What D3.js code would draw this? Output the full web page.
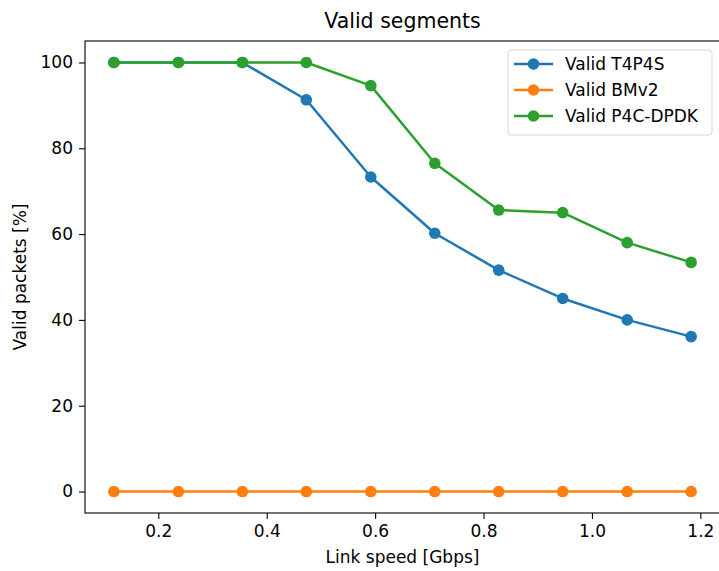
<!DOCTYPE html>
<html>
<head>
<meta charset="utf-8">
<script src="https://cdn.jsdelivr.net/npm/d3@7"></script>
<style>
  body { margin: 0; background: #fff; }
  text { font-family: "DejaVu Sans", sans-serif; fill: #000; }
</style>
</head>
<body>
<svg width="719" height="571"></svg>
<script>
// data
var speeds = [0.118, 0.237, 0.355, 0.473, 0.592, 0.710, 0.828, 0.946, 1.065, 1.183];
var t4p4s = [100, 100, 100, 91.3, 73.3, 60.2, 51.6, 45.0, 40.0, 36.1];
var bmv2 = [0, 0, 0, 0, 0, 0, 0, 0, 0, 0];
var p4c = [100, 100, 100, 100, 94.6, 76.5, 65.6, 65.0, 58.0, 53.4];
var seriesNames = ["Valid T4P4S", "Valid BMv2", "Valid P4C-DPDK"];
var colors = ["#1f77b4", "#ff7f0e", "#2ca02c"];
var xTicks = [0.2, 0.4, 0.6, 0.8, 1.0, 1.2];
var yTicks = [0, 20, 40, 60, 80, 100];

var svg = d3.select("svg"),
    margin = {top: 41, right: -1, bottom: 58, left: 85},
    width = +svg.attr("width") - margin.left - margin.right,
    height = +svg.attr("height") - margin.top - margin.bottom;

// matplotlib style 5% margins
var xmin = d3.min(speeds), xmax = d3.max(speeds), xpad = (xmax - xmin) * 0.05;
var x = d3.scaleLinear().domain([xmin - xpad, xmax + xpad]).range([0, width]);
var y = d3.scaleLinear().domain([-5, 105]).range([height, 0]);

var fs = 17;

var g = svg.append("g")
    .attr("transform", "translate(" + margin.left + "," + margin.top + ")");

// axes
var xAxis = g.append("g")
    .attr("transform", "translate(0," + height + ")")
    .call(d3.axisBottom(x).tickValues(xTicks).tickFormat(d3.format(".1f")).tickSize(6).tickPadding(6));
var yAxis = g.append("g")
    .call(d3.axisLeft(y).tickValues(yTicks).tickSize(6).tickPadding(6));
[xAxis, yAxis].forEach(function(a) {
  a.select(".domain").remove();
  a.selectAll("line").attr("stroke", "#000").attr("stroke-width", 1.1);
  a.selectAll("text").style("font-size", fs + "px").attr("fill", "#000");
});

// spines
g.append("rect")
    .attr("x", 0).attr("y", 0)
    .attr("width", width).attr("height", height)
    .attr("fill", "none").attr("stroke", "#000").attr("stroke-width", 1.1);

// lines
var line = d3.line()
    .x(function(d, i) { return x(speeds[i]); })
    .y(function(d) { return y(d); });

var allSeries = [t4p4s, bmv2, p4c];
allSeries.forEach(function(vals, k) {
  g.append("path")
    .datum(vals)
    .attr("fill", "none")
    .attr("stroke", colors[k])
    .attr("stroke-width", 2.5)
    .attr("stroke-linejoin", "round")
    .attr("d", line);
  g.selectAll(".dot" + k)
    .data(vals)
    .enter().append("circle")
      .attr("class", "dot" + k)
      .attr("cx", function(d, i) { return x(speeds[i]); })
      .attr("cy", function(d) { return y(d); })
      .attr("r", 5.8)
      .attr("fill", colors[k]);
});

// title and labels
svg.append("text")
    .attr("x", margin.left + width / 2).attr("y", 28)
    .attr("text-anchor", "middle")
    .style("font-size", "20.5px")
    .text("Valid segments");

svg.append("text")
    .attr("x", margin.left + width / 2).attr("y", 563)
    .attr("text-anchor", "middle")
    .style("font-size", fs + "px")
    .text("Link speed [Gbps]");

svg.append("text")
    .attr("transform", "translate(26," + (margin.top + height / 2) + ") rotate(-90)")
    .attr("text-anchor", "middle")
    .style("font-size", fs + "px")
    .text("Valid packets [%]");

// legend
var legend = svg.append("g").attr("transform", "translate(508,50)");
legend.append("rect")
    .attr("width", 204).attr("height", 85)
    .attr("rx", 3)
    .attr("fill", "#fff").attr("fill-opacity", 0.8)
    .attr("stroke", "#d6d6d6").attr("stroke-width", 1);

var items = legend.selectAll(".item")
    .data(seriesNames)
    .enter().append("g")
      .attr("class", "item")
      .attr("transform", function(d, i) { return "translate(0," + (14 + i * 26) + ")"; });
items.append("line")
    .attr("x1", 6).attr("x2", 45)
    .attr("stroke", function(d, i) { return colors[i]; })
    .attr("stroke-width", 2.5);
items.append("circle")
    .attr("cx", 25.5).attr("r", 5.8)
    .attr("fill", function(d, i) { return colors[i]; });
items.append("text")
    .attr("x", 57).attr("dy", "0.35em")
    .style("font-size", fs + "px")
    .text(function(d) { return d; });
</script>
</body>
</html>
